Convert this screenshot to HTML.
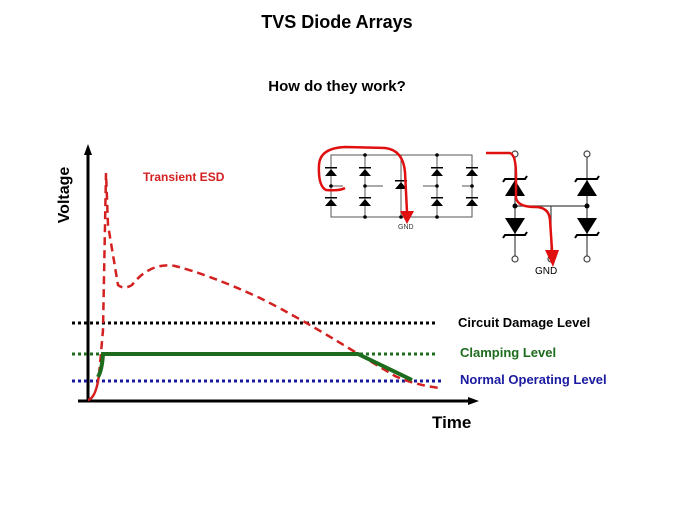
<!DOCTYPE html>
<html><head><style>
body{margin:0;background:#fff;}
svg{display:block;font-family:"Liberation Sans",Arial,sans-serif;font-weight:bold;}
</style></head><body>
<svg width="675" height="506" viewBox="0 0 675 506">
<defs>
<g id="d"><polygon points="-6,4 6,4 0,-3"/><rect x="-6" y="-5" width="12" height="1.5"/></g>
</defs>
<text x="337" y="28" text-anchor="middle" font-size="18">TVS Diode Arrays</text>
<text x="337" y="91" text-anchor="middle" font-size="15">How do they work?</text>

<!-- axes -->
<line x1="88" y1="402" x2="88" y2="152" stroke="#000" stroke-width="3"/>
<polygon points="88,144 84,155 92,155" fill="#000"/>
<line x1="78" y1="401" x2="470" y2="401" stroke="#000" stroke-width="3"/>
<polygon points="479,401 468,397 468,405" fill="#000"/>
<text transform="translate(69,195) rotate(-90)" text-anchor="middle" font-size="16">Voltage</text>
<text x="432" y="428" font-size="17">Time</text>

<!-- level lines -->
<line x1="72" y1="323" x2="436" y2="323" stroke="#000" stroke-width="3" stroke-dasharray="3,3"/>
<line x1="72" y1="354" x2="436" y2="354" stroke="#1d6b1d" stroke-width="3" stroke-dasharray="3,3"/>
<line x1="72" y1="381" x2="441" y2="381" stroke="#1a1aa0" stroke-width="3" stroke-dasharray="3,3"/>
<text x="458" y="327" font-size="13">Circuit Damage Level</text>
<text x="460" y="357" font-size="13" fill="#1d6b1d">Clamping Level</text>
<text x="460" y="384" font-size="13" fill="#1a1aa0">Normal Operating Level</text>

<!-- red transient -->
<path d="M88,400 Q96,398 99,375" fill="none" stroke="#d42020" stroke-width="2.5"/>
<path d="M99,375 L103,330 L106,173 L108,225 L118,285 Q124,290 132,285 Q150,262 175,266 Q210,275 260,298 Q300,318 355,352 L395,376 Q415,385 440,388" fill="none" stroke="#d42020" stroke-width="2.5" stroke-dasharray="8,5"/>
<text x="143" y="181" font-size="12" fill="#d42020">Transient ESD</text>

<!-- green clamp -->
<path d="M98,377 Q102,370 103,354 L358,354 L412,380" fill="none" stroke="#1d6b1d" stroke-width="4"/>

<!-- circuit 1 -->
<g stroke="#555" stroke-width="1" fill="none">
<rect x="331" y="155" width="141" height="62"/>
<line x1="365" y1="155" x2="365" y2="217"/>
<line x1="437" y1="155" x2="437" y2="217"/>
<line x1="401" y1="155" x2="401" y2="217"/>
<line x1="331" y1="186" x2="343" y2="186"/>
<line x1="365" y1="186" x2="383" y2="186"/>
<line x1="423" y1="186" x2="437" y2="186"/>
<line x1="462" y1="186" x2="472" y2="186"/>
</g>
<g fill="#000">
<use href="#d" x="331" y="172"/><use href="#d" x="331" y="202"/>
<use href="#d" x="365" y="172"/><use href="#d" x="365" y="202"/>
<use href="#d" x="401" y="185"/>
<use href="#d" x="437" y="172"/><use href="#d" x="437" y="202"/>
<use href="#d" x="472" y="172"/><use href="#d" x="472" y="202"/>
<circle cx="365" cy="155" r="1.8"/><circle cx="437" cy="155" r="1.8"/>
<circle cx="365" cy="217" r="1.8"/><circle cx="401" cy="217" r="1.8"/><circle cx="437" cy="217" r="1.8"/>
<circle cx="331" cy="186" r="1.8"/><circle cx="365" cy="186" r="1.8"/><circle cx="437" cy="186" r="1.8"/><circle cx="472" cy="186" r="1.8"/>
</g>
<text x="398" y="229" font-size="7" font-weight="normal" fill="#333">GND</text>
<path d="M345,188 Q340,191 326,190 Q318,186 319,165 Q320,148 345,147 L385,148 Q403,150 405,172 L407,212" fill="none" stroke="#e01010" stroke-width="2.5"/>
<polygon points="400,211 414,211 407,224" fill="#e01010"/>

<!-- circuit 2 -->
<g stroke="#444" stroke-width="1.2" fill="none">
<line x1="515" y1="157" x2="515" y2="256"/>
<line x1="587" y1="157" x2="587" y2="256"/>
<line x1="515" y1="206" x2="587" y2="206"/>
<line x1="551" y1="206" x2="551" y2="256"/>
<circle cx="515" cy="154" r="3" fill="#fff"/><circle cx="587" cy="154" r="3" fill="#fff"/>
<circle cx="515" cy="259" r="3" fill="#fff"/><circle cx="587" cy="259" r="3" fill="#fff"/><circle cx="551" cy="259" r="3" fill="#fff"/>
</g>
<g fill="#000">
<polygon points="505,196 525,196 515,180"/><polygon points="577,196 597,196 587,180"/>
<polygon points="505,218 525,218 515,234"/><polygon points="577,218 597,218 587,234"/>
<path d="M503,182 L505,179 L525,179 L527,176" stroke="#000" stroke-width="2" fill="none"/>
<path d="M575,182 L577,179 L597,179 L599,176" stroke="#000" stroke-width="2" fill="none"/>
<path d="M503,238 L505,235 L525,235 L527,232" stroke="#000" stroke-width="2" fill="none"/>
<path d="M575,238 L577,235 L597,235 L599,232" stroke="#000" stroke-width="2" fill="none"/>
<circle cx="515" cy="206" r="2.5"/><circle cx="587" cy="206" r="2.5"/>
</g>
<text x="535" y="274" font-size="10" font-weight="normal">GND</text>
<path d="M486,153 L510,153 Q516,155 516,175 L516,198 Q518,207 535,207 Q549,207 550,220 L552,250" fill="none" stroke="#e01010" stroke-width="2.5"/>
<polygon points="545,250 559,250 553,267" fill="#e01010"/>
</svg>
</body></html>
